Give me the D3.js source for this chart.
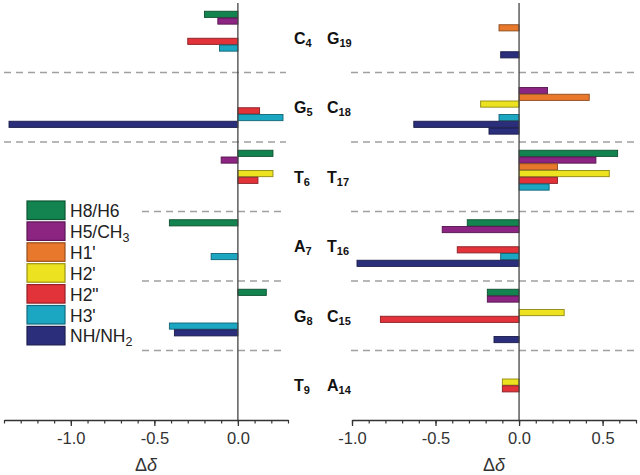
<!DOCTYPE html>
<html>
<head>
<meta charset="utf-8">
<script src="https://cdn.jsdelivr.net/npm/d3@7"></script>
<style>
  body { margin: 0; background: #fff; }
  svg { display: block; font-family: 'Liberation Sans', Arial, sans-serif; }
</style>
</head>
<body>
<div id="chart"></div>
<script>
// series names (legend), NH/NH2 can have two bars per residue
const seriesNames = ['H8/H6', 'H5/CH3', "H1'", "H2'", 'H2"', "H3'", 'NH/NH2']
const seriesColors = ['#13844f', '#8c2482', '#e8792c', '#ece21f', '#e2333b', '#1ba6c1', '#2b2e7b']

const leftResidues = [['C', '4'], ['G', '5'], ['T', '6'], ['A', '7'], ['G', '8'], ['T', '9']]
const rightResidues = [['G', '19'], ['C', '18'], ['T', '17'], ['T', '16'], ['C', '15'], ['A', '14']]

// left strand values, one entry per residue (top to bottom)
const h8h6L = [-0.20, null, 0.21, -0.41, 0.17, null]
const h5ch3L = [-0.12, null, -0.10, null, null, null]
const h1pL = [null, null, null, null, null, null]
const h2pL = [null, null, 0.21, null, null, null]
const h2ppL = [-0.30, 0.13, 0.12, null, null, null]
const h3pL = [-0.11, 0.27, null, -0.16, -0.41, null]
const nhaL = [null, -1.37, null, null, -0.38, null]
const nhbL = [null, null, null, null, null, null]

// right strand values
const h8h6R = [null, null, 0.59, -0.31, -0.19, null]
const h5ch3R = [null, 0.17, 0.46, -0.46, -0.19, null]
const h1pR = [-0.12, 0.42, 0.23, null, null, null]
const h2pR = [null, -0.23, 0.54, null, 0.27, -0.10]
const h2ppR = [null, null, 0.23, -0.37, -0.83, -0.10]
const h3pR = [null, -0.12, 0.18, -0.11, null, null]
const nhaR = [-0.11, -0.63, null, -0.97, null, null]
const nhbR = [null, -0.18, null, null, -0.15, null]

const leftTicks = [-1.0, -0.5, 0.0]
const rightTicks = [-1.0, -0.5, 0.0, 0.5]

const W = 640
const H = 475
const axisY = 420

const svg = d3.select('#chart').append('svg')
  .attr('width', W)
  .attr('height', H)

const y = d3.scaleBand().domain(d3.range(6)).range([3, axisY]).paddingInner(0).paddingOuter(0)
// 8 bar slots per residue (last two are the NH/NH2 pair)
const slot = d3.scaleBand().domain(d3.range(8)).range([0, 54])
const slotColor = i => seriesColors[Math.min(i, 6)]

function panel (opts) {
  const x = d3.scaleLinear().domain(opts.domain).range(opts.range)
  const g = svg.append('g')
  const rows = opts.series

  // dashed separators
  d3.range(1, 6).forEach(k => {
    const x0 = opts.dashStart(k)
    g.append('line')
      .attr('x1', x0).attr('x2', opts.dashEnd)
      .attr('y1', y(k)).attr('y2', y(k))
      .style('stroke', '#a0a0a0')
      .style('stroke-width', 1.3)
      .style('stroke-dasharray', '7,5')
  })

  // bars
  const bars = []
  rows.forEach((arr, s) => {
    arr.forEach((v, r) => {
      if (v !== null) bars.push({ s, r, v })
    })
  })
  const off = (y.bandwidth() - slot.range()[1]) / 2
  g.selectAll('rect.bar')
    .data(bars)
    .enter()
    .append('rect')
    .attr('class', 'bar')
    .attr('x', d => x(Math.min(0, d.v)))
    .attr('width', d => Math.abs(x(d.v) - x(0)))
    .attr('y', d => y(d.r) + off + slot(d.s) + 0.5)
    .attr('height', slot.bandwidth() - 0.6)
    .style('fill', d => slotColor(d.s))
    .style('stroke', d => d3.color(slotColor(d.s)).darker(1.4))
    .style('stroke-width', 0.9)

  // zero line
  g.append('line')
    .attr('x1', x(0)).attr('x2', x(0))
    .attr('y1', 3).attr('y2', axisY)
    .style('stroke', '#444')
    .style('stroke-width', 1.3)

  // axis: minor ticks then major ticks with labels
  const minor = d3.range(Math.round(opts.domain[0] * 10), Math.round(opts.domain[1] * 10) + 1).map(d => d / 10)
  g.append('g')
    .attr('transform', `translate(0,${axisY})`)
    .call(d3.axisBottom(x).tickValues(minor).tickSize(3.5).tickFormat('').tickSizeOuter(0))
    .call(a => a.select('.domain').style('stroke', '#333').style('stroke-width', 1.3))
    .call(a => a.selectAll('.tick line').style('stroke', '#333').style('stroke-width', 1.2))
  g.append('g')
    .attr('transform', `translate(0,${axisY})`)
    .call(d3.axisBottom(x).tickValues(opts.ticks).tickSize(6).tickPadding(6).tickFormat(d3.format('.1f')).tickSizeOuter(0))
    .call(a => a.select('.domain').remove())
    .call(a => a.selectAll('.tick line').style('stroke', '#333').style('stroke-width', 1.3))
    .call(a => a.selectAll('.tick text')
      .style('font-size', '16.5px')
      .style('fill', '#333')
      .style('font-family', "'Liberation Sans', Arial, sans-serif")
      .text(d => d3.format('.1f')(d).replace('−', '-')))

  // axis title
  const t = g.append('text')
    .attr('x', (opts.range[0] + opts.range[1]) / 2)
    .attr('y', 471)
    .attr('text-anchor', 'middle')
    .style('font-size', '18px')
    .style('fill', '#333')
  t.append('tspan').text('Δ')
  t.append('tspan').style('font-style', 'italic').text('δ')

  // residue labels
  opts.residues.forEach((res, i) => {
    const lab = g.append('text')
      .attr('x', opts.labelX)
      .attr('y', y(i) + y.bandwidth() / 2 + 6)
      .style('font-size', '16px')
      .style('font-weight', 'bold')
      .style('fill', '#111')
    lab.append('tspan').text(res[0])
    lab.append('tspan').attr('dy', 3).style('font-size', '11px').text(res[1])
  })
}

panel({
  domain: [-1.4, 0.3],
  range: [4, 288],
  ticks: leftTicks,
  series: [h8h6L, h5ch3L, h1pL, h2pL, h2ppL, h3pL, nhaL, nhbL],
  residues: leftResidues,
  labelX: 294,
  dashStart: k => (k <= 2 ? 4 : 142),
  dashEnd: 286
})

panel({
  domain: [-1.0, 0.7],
  range: [352, 636],
  ticks: rightTicks,
  series: [h8h6R, h5ch3R, h1pR, h2pR, h2ppR, h3pR, nhaR, nhbR],
  residues: rightResidues,
  labelX: 327,
  dashStart: k => 351,
  dashEnd: 634
})

// legend
const legend = svg.append('g').attr('transform', 'translate(27,201)')
const item = legend.selectAll('g')
  .data(seriesNames)
  .enter()
  .append('g')
  .attr('transform', (d, i) => `translate(0,${i * 20.9})`)
item.append('rect')
  .attr('width', 38)
  .attr('height', 18.5)
  .style('fill', (d, i) => seriesColors[i])
  .style('stroke', (d, i) => d3.color(seriesColors[i]).darker(1.2))
  .style('stroke-width', 1.2)
const lt = item.append('text')
  .attr('x', 43)
  .attr('y', 16)
  .style('font-size', '17.5px')
  .style('fill', '#222')
lt.each(function (d) {
  const el = d3.select(this)
  const m = d.match(/^(.*?)(\d)$/)
  if (d === 'H5/CH3' || d === 'NH/NH2') {
    el.append('tspan').text(m[1])
    el.append('tspan').attr('dy', 4).style('font-size', '12.5px').text(m[2])
  } else {
    el.text(d)
  }
})
</script>
</body>
</html>
